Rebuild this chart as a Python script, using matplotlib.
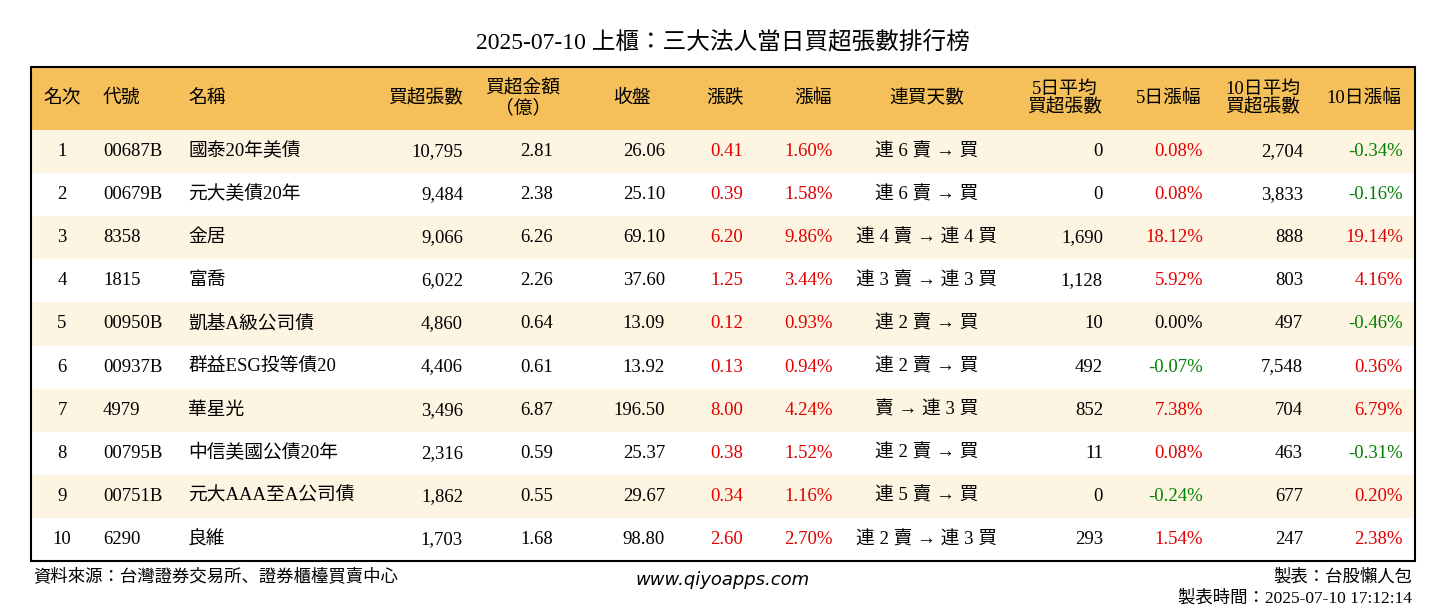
import matplotlib
matplotlib.use("Agg")
import matplotlib.pyplot as plt
from matplotlib import font_manager
from matplotlib.patches import Rectangle

names_avail = {f.name for f in font_manager.fontManager.ttflist}
cjk = [n for n in ["Noto Sans CJK TC", "Noto Sans CJK JP", "Noto Sans CJK SC"] if n in names_avail]
FONT = ["Liberation Serif"] + cjk[:1]
plt.rcParams["font.family"] = FONT

ranks = [1, 2, 3, 4, 5, 6, 7, 8, 9, 10]
codes = ["00687B", "00679B", "8358", "1815", "00950B", "00937B", "4979", "00795B", "00751B", "6290"]
names = ["國泰20年美債", "元大美債20年", "金居", "富喬", "凱基A級公司債", "群益ESG投等債20",
         "華星光", "中信美國公債20年", "元大AAA至A公司債", "良維"]
net_lots = [10795, 9484, 9066, 6022, 4860, 4406, 3496, 2316, 1862, 1703]
net_amount = [2.81, 2.38, 6.26, 2.26, 0.64, 0.61, 6.87, 0.59, 0.55, 1.68]
close = [26.06, 25.10, 69.10, 37.60, 13.09, 13.92, 196.50, 25.37, 29.67, 98.80]
change = [0.41, 0.39, 6.20, 1.25, 0.12, 0.13, 8.00, 0.38, 0.34, 2.60]
change_pct = [1.60, 1.58, 9.86, 3.44, 0.93, 0.94, 4.24, 1.52, 1.16, 2.70]
streak = ["連 6 賣 → 買", "連 6 賣 → 買", "連 4 賣 → 連 4 買", "連 3 賣 → 連 3 買",
          "連 2 賣 → 買", "連 2 賣 → 買", "賣 → 連 3 買", "連 2 賣 → 買",
          "連 5 賣 → 買", "連 2 賣 → 連 3 買"]
avg5 = [0, 0, 1690, 1128, 10, 492, 852, 11, 0, 293]
pct5 = [0.08, 0.08, 18.12, 5.92, 0.00, -0.07, 7.38, 0.08, -0.24, 1.54]
avg10 = [2704, 3833, 888, 803, 497, 7548, 704, 463, 677, 247]
pct10 = [-0.34, -0.16, 19.14, 4.16, -0.46, 0.36, 6.79, -0.31, 0.20, 2.38]

headers = ["名次", "代號", "名稱", "買超張數", "買超金額\n（億）", "收盤", "漲跌", "漲幅",
           "連買天數", "5日平均\n買超張數", "5日漲幅", "10日平均\n買超張數", "10日漲幅"]

RED, GREEN = "#e00000", "#008000"


def sign_color(v):
    if v > 0:
        return RED
    if v < 0:
        return GREEN
    return "black"


fig = plt.figure(figsize=(14.46, 6.12), dpi=100)
ax = fig.add_axes([0, 0, 1, 1])
ax.set_xlim(0, 1446)
ax.set_ylim(612, 0)
ax.axis("off")

left, right, top, head_h, row_h = 31, 1415, 67, 63, 43.1
fs = 13.5

ax.text(723, 42, "2025-07-10 上櫃：三大法人當日買超張數排行榜", ha="center", va="center",
        fontsize=17)

ax.add_patch(Rectangle((left, top), right - left, head_h, color="#f5c05a", lw=0))
hdr_pos = [(62, "center"), (103, "left"), (188, "left"), (463, "right"), (523, "center"),
           (632, "center"), (725, "center"), (813, "center"), (927, "center"),
           (1065, "center"), (1169, "center"), (1263, "center"), (1364, "center")]
for (x, ha), h in zip(hdr_pos, headers):
    ax.text(x, top + head_h / 2, h, ha=ha, va="center", fontsize=fs, linespacing=1.1)

body_pos = [(62, "center"), (103, "left"), (188, "left"), (463, "right"), (553, "right"),
            (665, "right"), (743, "right"), (833, "right"), (927, "center"),
            (1103, "right"), (1203, "right"), (1303, "right"), (1403, "right")]

for i in range(len(ranks)):
    y0 = top + head_h + i * row_h
    if i % 2 == 0:
        ax.add_patch(Rectangle((left, y0), right - left, row_h, color="#fdf5e2", lw=0))
    cells = [
        (str(ranks[i]), "black"), (codes[i], "black"), (names[i], "black"),
        (f"{net_lots[i]:,}", "black"), (f"{net_amount[i]:.2f}", "black"),
        (f"{close[i]:.2f}", "black"), (f"{change[i]:.2f}", sign_color(change[i])),
        (f"{change_pct[i]:.2f}%", sign_color(change_pct[i])), (streak[i], "black"),
        (f"{avg5[i]:,}", "black"), (f"{pct5[i]:.2f}%", sign_color(pct5[i])),
        (f"{avg10[i]:,}", "black"), (f"{pct10[i]:.2f}%", sign_color(pct10[i])),
    ]
    for (x, ha), (t, c) in zip(body_pos, cells):
        ax.text(x, y0 + row_h / 2, t, ha=ha, va="center", fontsize=fs, color=c)

bottom = top + head_h + len(ranks) * row_h
ax.add_patch(Rectangle((left, top), right - left, bottom - top, fill=False, lw=1.5, ec="black"))

ax.text(33, 577, "資料來源：台灣證券交易所、證券櫃檯買賣中心", ha="left", va="center", fontsize=12.5)
ax.text(723, 580, "www.qiyoapps.com", ha="center", va="center", fontsize=13,
        family="DejaVu Sans", style="italic")
ax.text(1412, 577, "製表：台股懶人包", ha="right", va="center", fontsize=12.5)
ax.text(1412, 598, "製表時間：2025-07-10 17:12:14", ha="right", va="center", fontsize=12.5)

fig.savefig("out.png", dpi=100)
